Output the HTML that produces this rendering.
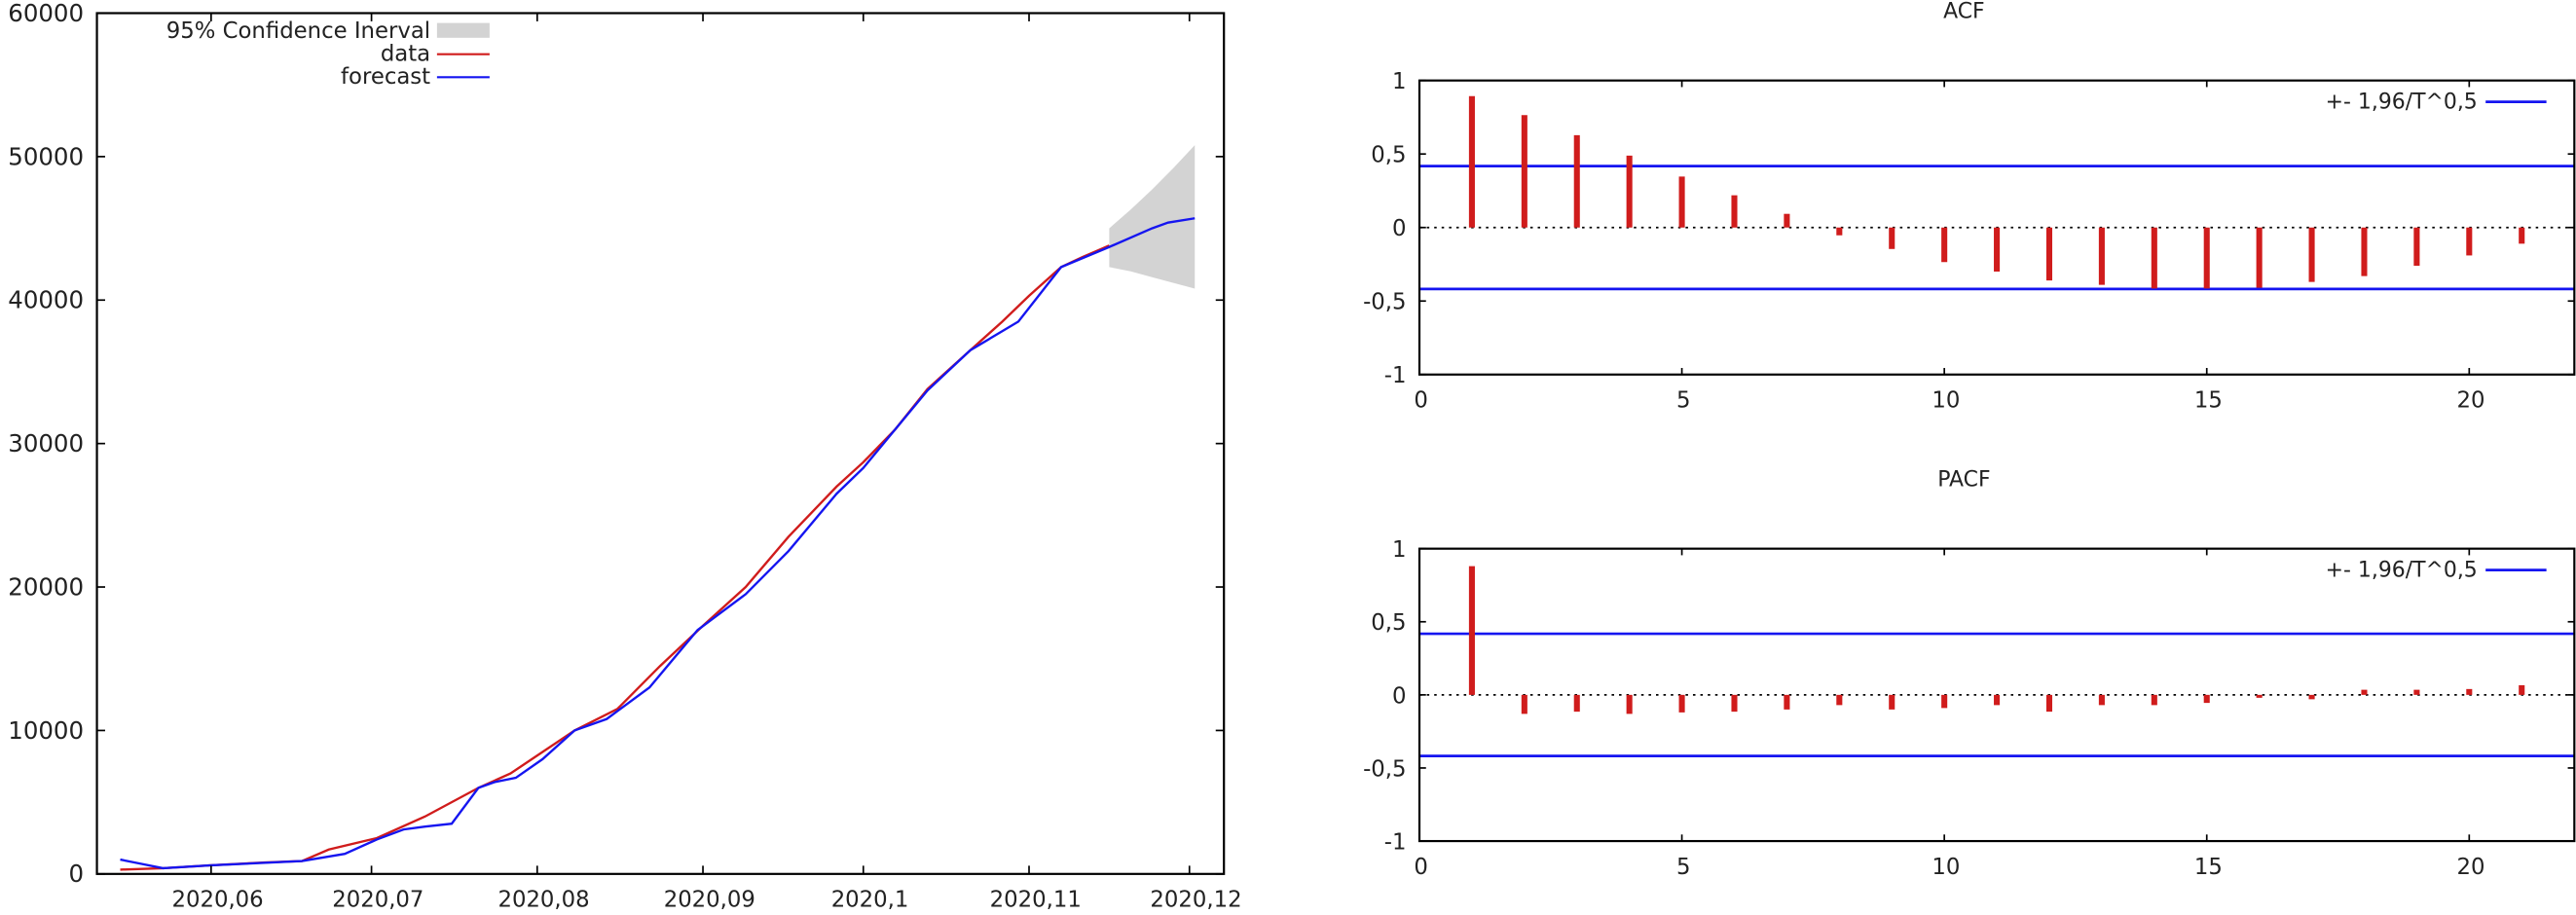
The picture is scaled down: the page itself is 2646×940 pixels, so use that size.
<!DOCTYPE html>
<html><head><meta charset="utf-8"><style>
html,body{margin:0;padding:0;background:#fff;}
svg{display:block;}
text{font-family:"DejaVu Sans","Liberation Sans",sans-serif;fill:#222;}
</style></head><body>
<svg id="s" width="2646" height="940" viewBox="0 0 1568 557" preserveAspectRatio="none" xmlns="http://www.w3.org/2000/svg">
<g id="left"></g>
<g id="acf"></g>
<g id="pacf"></g>
</svg>
<script>
// ---- forecast chart data ----
const monthDays = [0,30,61,92,122,153,183];
const monthLabels = ["2020,06","2020,07","2020,08","2020,09","2020,1","2020,11","2020,12"];
const yTicks = [0,10000,20000,30000,40000,50000,60000];
const dataDays = [-17,-9,0,10,17,22,31,40,50,56,62,68,76,84,92,100,108,117,122,128,134,142,148,153,159,163,168];
const dataVals = [300,400,600,800,900,1700,2500,4000,6000,7000,8500,10000,11500,14500,17300,20000,23500,27000,28700,31000,33800,36500,38500,40300,42300,43000,43800];
const fcDays = [-17,-13,-9,0,17,25,31,36,40,45,50,53,57,62,68,74,82,91,100,108,117,122,128,134,142,151,159,168,176,179,184];
const fcVals = [1000,700,400,600,900,1400,2400,3100,3300,3500,6000,6400,6700,8000,10000,10800,13000,17000,19500,22500,26500,28300,31000,33700,36500,38500,42300,43700,45000,45400,45700];
const ciDays = [168,172,176,180,184];
const ciUpper = [45000,46300,47700,49200,50800];
const ciLower = [42300,42000,41600,41200,40800];
// ---- correlogram data ----
const lags = [1,2,3,4,5,6,7,8,9,10,11,12,13,14,15,16,17,18,19,20,21];
const acfVals = [0.894,0.765,0.628,0.489,0.347,0.219,0.093,-0.053,-0.146,-0.235,-0.30,-0.36,-0.39,-0.415,-0.415,-0.41,-0.37,-0.33,-0.26,-0.19,-0.11];
const pacfVals = [0.88,-0.13,-0.115,-0.13,-0.12,-0.115,-0.1,-0.07,-0.1,-0.09,-0.07,-0.115,-0.07,-0.07,-0.055,-0.02,-0.03,0.035,0.035,0.04,0.066];
const confBand = [0.418];
const lagTicks = [0,5,10,15,20];
const corrTicks = [1,0.5,0,-0.5,-1];
const corrTickLabels = ["1","0,5","0","-0,5","-1"];

const NS="http://www.w3.org/2000/svg";
function mk(parent,tag,attrs,txt){const e=document.createElementNS(NS,tag);for(const k in attrs)e.setAttribute(k,attrs[k]);if(txt!==undefined)e.textContent=txt;parent.appendChild(e);return e;}

// ---- left chart ----
(function(){
 const g=document.getElementById('left');
 const L=59,R=745,T=8,B=532;
 const x=d=>128.5+d*(724-128.5)/183;
 const y=v=>B-v*(B-T)/60000;
 let pts=ciDays.map((d,i)=>x(d)+','+y(ciUpper[i]));
 for(let i=ciDays.length-1;i>=0;i--)pts.push(x(ciDays[i])+','+y(ciLower[i]));
 const ci=mk(g,'polygon',{points:pts.join(' '),fill:'#d3d3d3'});
 
 
 const dl=mk(g,'polyline',{points:dataDays.map((d,i)=>x(d)+','+y(dataVals[i])).join(' '),fill:'none',stroke:'#d01c1c','stroke-width':1.4});
 
 
 const fl=mk(g,'polyline',{points:fcDays.map((d,i)=>x(d)+','+y(fcVals[i])).join(' '),fill:'none',stroke:'#1515f0','stroke-width':1.4});
 
 
 const fr=mk(g,'rect',{x:L,y:T,width:R-L,height:B-T,fill:'none',stroke:'#000','stroke-width':1.3});
 
 
 yTicks.forEach(v=>{
  mk(g,'line',{x1:L,x2:L+5,y1:y(v),y2:y(v),stroke:'#000'});
  mk(g,'line',{x1:R,x2:R-5,y1:y(v),y2:y(v),stroke:'#000'});
  const t=mk(g,'text',{x:L-8,y:y(v)+5,'text-anchor':'end','font-size':14.5},String(v));
  
  
 });
 monthDays.forEach((d,i)=>{
  mk(g,'line',{x1:x(d),x2:x(d),y1:B,y2:B-5,stroke:'#000'});
  mk(g,'line',{x1:x(d),x2:x(d),y1:T,y2:T+5,stroke:'#000'});
  const t=mk(g,'text',{x:x(d)+4,y:B+20,'text-anchor':'middle','font-size':13.5},monthLabels[i]);
  
  
 });
 const lg=mk(g,'g',{});
 
 
 mk(lg,'text',{x:262,y:23,'text-anchor':'end','font-size':13.5},'95% Confidence Inerval');
 mk(lg,'rect',{x:266,y:14,width:32,height:9,fill:'#d3d3d3'});
 mk(lg,'text',{x:262,y:37,'text-anchor':'end','font-size':13.5},'data');
 mk(lg,'line',{x1:266,x2:298,y1:33,y2:33,stroke:'#d01c1c','stroke-width':1.3});
 mk(lg,'text',{x:262,y:51,'text-anchor':'end','font-size':13.5},'forecast');
 mk(lg,'line',{x1:266,x2:298,y1:47,y2:47,stroke:'#1515f0','stroke-width':1.3});
})();

// ---- correlograms ----
function corr(id,title,vals,T,B){
 const g=document.getElementById(id);
 const L=864,R=1567;
 const x=l=>L+l*(1503-L)/20;
 const y=v=>(T+B)/2-v*(B-T)/2;
 const tt=mk(g,'text',{x:(L+R)/2-20,y:T-38,'text-anchor':'middle','font-size':13},title);
 
 
 mk(g,'line',{x1:L,x2:R,y1:y(0),y2:y(0),stroke:'#000','stroke-width':1,'stroke-dasharray':'1.5,3'});
 confBand.forEach(c=>{
  [c,-c].forEach(v=>{
   const bl=mk(g,'line',{x1:L,x2:R,y1:y(v),y2:y(v),stroke:'#1515f0','stroke-width':1.6});
   
   
  });
 });
 lags.forEach((l,i)=>{
  const b=mk(g,'line',{x1:x(l),x2:x(l),y1:y(0),y2:y(vals[i]),stroke:'#d01c1c','stroke-width':3.6});
  
  
 });
 const fr=mk(g,'rect',{x:L,y:T,width:R-L,height:B-T,fill:'none',stroke:'#000','stroke-width':1.3});
 
 
 corrTicks.forEach((v,i)=>{
  mk(g,'line',{x1:L,x2:L+4,y1:y(v),y2:y(v),stroke:'#000'});
  mk(g,'line',{x1:R,x2:R-4,y1:y(v),y2:y(v),stroke:'#000'});
  const t=mk(g,'text',{x:L-8,y:y(v)+5,'text-anchor':'end','font-size':13.5},corrTickLabels[i]);
  
  
 });
 lagTicks.forEach(l=>{
  mk(g,'line',{x1:x(l),x2:x(l),y1:B,y2:B-4,stroke:'#000'});
  mk(g,'line',{x1:x(l),x2:x(l),y1:T,y2:T+4,stroke:'#000'});
  const t=mk(g,'text',{x:x(l)+1,y:B+20,'text-anchor':'middle','font-size':13.5},String(l));
  
  
 });
 const lg=mk(g,'g',{});
 
 
 mk(lg,'text',{x:1508,y:T+17,'text-anchor':'end','font-size':13},'+- 1,96/T^0,5');
 mk(lg,'line',{x1:1513,x2:1550,y1:T+13,y2:T+13,stroke:'#1515f0','stroke-width':1.6});
}
corr('acf','ACF',acfVals,49,228);
corr('pacf','PACF',pacfVals,334,512);
</script>
</body></html>
